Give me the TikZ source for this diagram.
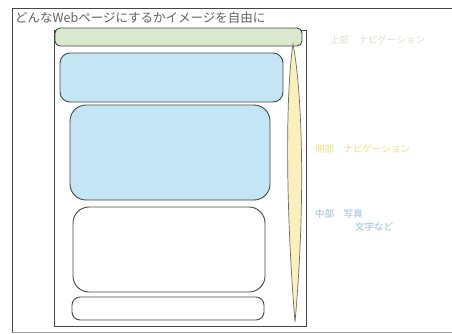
\documentclass[tikz,border=0pt]{standalone}
\usepackage{fontspec}
\newfontfamily\jp{Noto Sans CJK JP}
\definecolor{hdrgreen}{RGB}{218,232,205}
\definecolor{boxblue}{RGB}{196,229,244}
\definecolor{spyellow}{RGB}{250,240,188}
\definecolor{lbgreen}{RGB}{215,222,210}
\definecolor{lbyellow}{RGB}{240,222,120}
\definecolor{lbblue}{RGB}{150,190,220}
\definecolor{ink}{RGB}{70,70,70}
\begin{document}
\begin{tikzpicture}[x=1pt,y=-1pt,
  frame/.style={draw=ink,line width=1pt},
  panel/.style={draw=ink,line width=0.9pt},
  lab/.style={font=\jp\fontsize{9.5}{13}\selectfont,anchor=west,inner sep=0pt}]
\useasboundingbox (0,0) rectangle (452,333);
% outer sheet frame
\draw[frame] (12,333) -- (12,8) -- (452,8);
\draw[draw=ink!50,line width=0.6pt] (12,332) -- (452,332);
\node[font=\jp\fontsize{12.5}{14}\selectfont,text=ink!85,anchor=west,inner sep=0pt] (title) at (15,18) {どんなWebページにするかイメージを自由に};
% page frame
\draw[frame] (54,30) rectangle (306,326);
% header bar
\draw[panel,fill=hdrgreen,rounded corners=5] (55,28) rectangle (302,46);
% blue boxes
\draw[panel,fill=boxblue,rounded corners=10] (60,53) rectangle (283,102);
\draw[panel,fill=boxblue,rounded corners=16] (70,105) rectangle (270,200);
% white boxes
\draw[panel,fill=white,rounded corners=16] (73,207) rectangle (265,292);
\draw[panel,fill=white,rounded corners=8] (72,297) rectangle (264,320);
% yellow side spindle
\draw[draw=ink!80,line width=0.7pt,fill=spyellow]
  (293,44) .. controls (302,90) and (306,200) .. (295,322)
  .. controls (285,200) and (286,90) .. (293,44) -- cycle;
% labels
\node[lab,text=lbgreen] (l1) at (330,40) {上部　ナビゲーション};
\node[lab,text=lbyellow] (l2) at (315,149) {側部　ナビゲーション};
\node[lab,text=lbblue,align=left] (l3) at (315,220) {中部　写真\\\hspace{4.2em}文字など};
\end{tikzpicture}
\end{document}
